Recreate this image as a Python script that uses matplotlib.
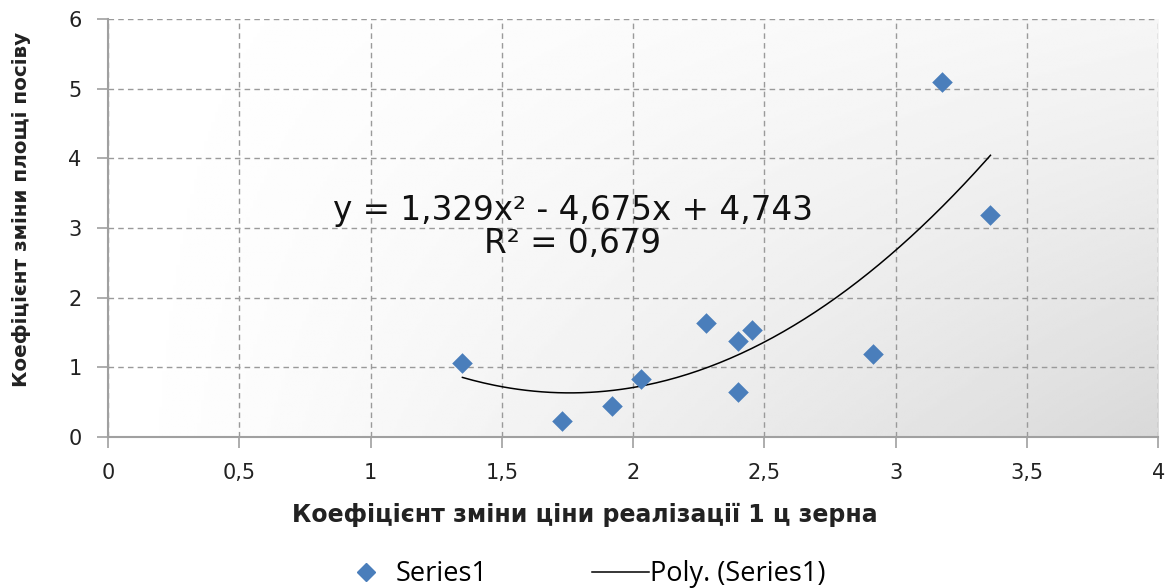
import numpy as np
import matplotlib
matplotlib.use("Agg")
import matplotlib.pyplot as plt
from matplotlib.lines import Line2D

# data
price_coef = [1.350, 1.728, 1.918, 2.031, 2.276, 2.400, 2.452, 2.400, 2.913, 3.178, 3.361]
area_coef = [1.06, 0.23, 0.445, 0.83, 1.63, 1.38, 1.54, 0.64, 1.19, 5.10, 3.18]
poly_coef = [1.329, -4.675, 4.743]
eq_text = "y = 1,329x\u00b2 - 4,675x + 4,743"
r2_text = "R\u00b2 = 0,679"
x_ticks = [0, 0.5, 1, 1.5, 2, 2.5, 3, 3.5, 4]
x_ticklabels = ["0", "0,5", "1", "1,5", "2", "2,5", "3", "3,5", "4"]
y_ticks = [0, 1, 2, 3, 4, 5, 6]

fig = plt.figure(figsize=(11.67, 5.88), dpi=100)
ax = fig.add_axes([0.0925, 0.257, 0.9, 0.7107])

# gradient background, white at top/left, grey toward bottom-right
u, v = np.meshgrid(np.linspace(0, 1, 300), np.linspace(0, 1, 200))
shade = 1 - 0.15 * (u ** 1.2) * (0.25 + 0.75 * v ** 1.1)
ax.imshow(shade, extent=[0, 4, 0, 6], aspect="auto", cmap="gray", vmin=0, vmax=1,
          origin="upper", zorder=0, interpolation="bilinear")

pts = ax.scatter(price_coef, area_coef, marker="D", s=110, color="#4a7ebb", zorder=3,
                 linewidths=0)

xs = np.linspace(min(price_coef), max(price_coef), 200)
trend, = ax.plot(xs, np.polyval(poly_coef, xs), color="black", lw=1.1, zorder=2)

ax.set_xlim(0, 4)
ax.set_ylim(0, 6)
ax.set_xticks(x_ticks)
ax.set_xticklabels(x_ticklabels)
ax.set_yticks(y_ticks)
ax.grid(True, color="#9a9a9a", linestyle=(0, (4, 3)), lw=1)
for s in ["top", "right"]:
    ax.spines[s].set_visible(False)
for s in ["left", "bottom"]:
    ax.spines[s].set_color("#a0a0a0")
    ax.spines[s].set_linewidth(1.5)
ax.tick_params(colors="#a0a0a0", length=8, width=1.2, labelcolor="#222222",
               labelsize=15, pad=11)

fig.text(585 / 1167, 1 - 515 / 588, "Коефіцієнт зміни ціни реалізації 1 ц зерна",
         fontsize=17, fontweight="bold", color="#222222", ha="center", va="center")
fig.text(22 / 1167, 1 - 209 / 588, "Коефіцієнт зміни площі посіву", rotation=90,
         fontsize=14.4, fontweight="bold", color="#222222", ha="center", va="center")

ax.text(1.77, 3.25, eq_text, fontsize=23.5, ha="center", va="center", color="#111111")
ax.text(1.77, 2.78, r2_text, fontsize=23.5, ha="center", va="center", color="#111111")

leg_font = {"family": "Open Sans", "size": 19.5}
h1 = Line2D([], [], marker="D", ls="none", color="#4a7ebb", markersize=9.5)
fig.legend([h1], ["Series1"], loc="center left", bbox_to_anchor=(352 / 1167, 1 - 574 / 588),
           frameon=False, prop=leg_font, borderpad=0, borderaxespad=0,
           handlelength=1.0, handletextpad=0.6)
h2 = Line2D([], [], color="black", lw=1.1)
fig.legend([h2], ["Poly. (Series1)"], loc="center left", bbox_to_anchor=(592 / 1167, 1 - 574 / 588),
           frameon=False, prop=leg_font, borderpad=0, borderaxespad=0,
           handlelength=2.1, handletextpad=0.05)

fig.savefig("out.png", dpi=100)
